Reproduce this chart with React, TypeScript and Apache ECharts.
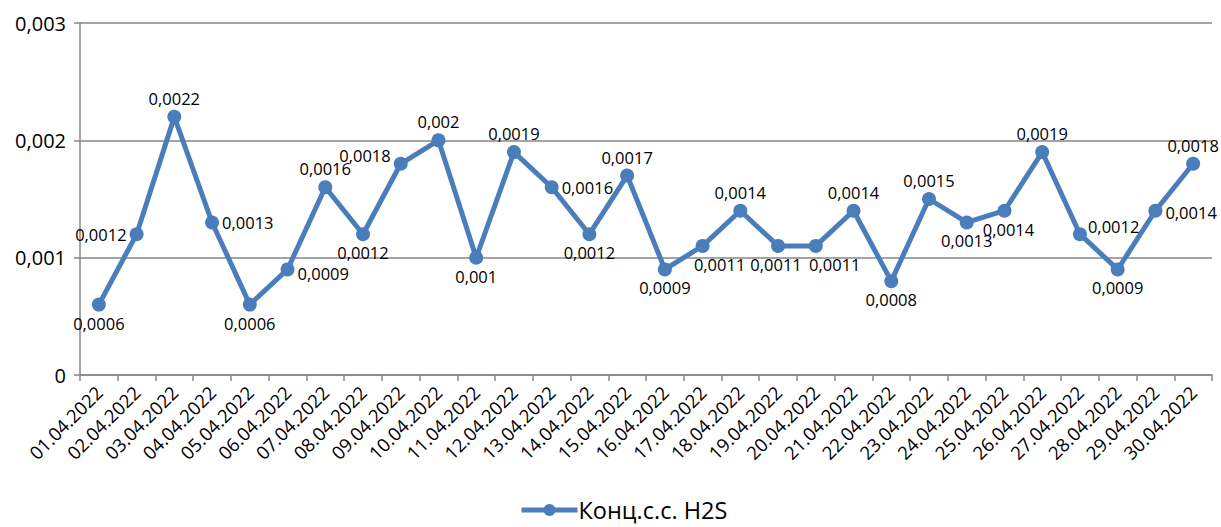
import React, { useEffect, useRef } from "react";
import * as echarts from "echarts";

const categories = [
  "01.04.2022","02.04.2022","03.04.2022","04.04.2022","05.04.2022","06.04.2022",
  "07.04.2022","08.04.2022","09.04.2022","10.04.2022","11.04.2022","12.04.2022",
  "13.04.2022","14.04.2022","15.04.2022","16.04.2022","17.04.2022","18.04.2022",
  "19.04.2022","20.04.2022","21.04.2022","22.04.2022","23.04.2022","24.04.2022",
  "25.04.2022","26.04.2022","27.04.2022","28.04.2022","29.04.2022","30.04.2022",
];
const values = [
  0.0006, 0.0012, 0.0022, 0.0013, 0.0006, 0.0009, 0.0016, 0.0012, 0.0018, 0.002,
  0.001, 0.0019, 0.0016, 0.0012, 0.0017, 0.0009, 0.0011, 0.0014, 0.0011, 0.0011,
  0.0014, 0.0008, 0.0015, 0.0013, 0.0014, 0.0019, 0.0012, 0.0009, 0.0014, 0.0018,
];
const labelPositions = [
  "bottom","left","top","right","bottom","right","top","bottom","left","top",
  "bottom","top","right","bottom","top","bottom","bottom","top","bottom","bottom",
  "top","bottom","top","bottom","bottom","top","right","bottom","right","top",
];
const labelShifts: [number, number][] = [
  [0, 0], [0, 0], [0, 0], [0, 0], [0, 0], [0, 4], [0, 0], [0, 0], [0, -8], [0, 0],
  [0, 0], [0, 0], [0, 0], [0, 0], [0, 0], [0, 0], [17, 0], [0, 0], [-2, 0], [19, 0],
  [0, 0], [0, 0], [0, 0], [0, 0], [4, 0], [0, 0], [-2, -8], [0, 0], [0, 2], [0, 0],
];
const seriesName = "Конц.с.с. H2S";

const fmt = (v: number) => String(v).replace(".", ",");

export default function App() {
  const ref = useRef<HTMLDivElement>(null);
  useEffect(() => {
    if (!ref.current) return;
    const chart = echarts.init(ref.current, undefined, { renderer: "svg" });
    const font = "Open Sans";
    chart.setOption({
      animation: false,
      textStyle: { fontFamily: font },
      grid: { left: 80, right: 9, top: 23, bottom: 152, containLabel: false },
      legend: {
        bottom: 3,
        left: 514,
        itemWidth: 56,
        itemHeight: 15,
        itemGap: 4,
        padding: [2, 5, 2, 5],
        lineStyle: { width: 5 },
        textStyle: { fontSize: 23.5, lineHeight: 24, color: "#000", fontFamily: font, padding: [0, 0, 0, -4] },
        data: [seriesName],
      },
      xAxis: {
        type: "category",
        data: categories,
        boundaryGap: true,
        axisLine: { lineStyle: { color: "#868686", width: 1.5 } },
        axisTick: { show: true, length: 6, alignWithLabel: false, lineStyle: { color: "#868686", width: 1.5 } },
        axisLabel: { rotate: 45, interval: 0, fontSize: 18.5, color: "#000", margin: 14, fontFamily: font },
        splitLine: { show: false },
      },
      yAxis: {
        type: "value",
        min: 0,
        max: 0.003,
        interval: 0.001,
        axisLine: { show: true, lineStyle: { color: "#868686", width: 1.5 } },
        axisTick: { show: true, length: 6, lineStyle: { color: "#868686", width: 1.5 } },
        axisLabel: { fontSize: 20, color: "#000", margin: 14, formatter: (v: number) => fmt(v), fontFamily: font },
        splitLine: { show: true, lineStyle: { color: "#868686", width: 1.5 } },
      },
      series: [
        {
          name: seriesName,
          type: "line",
          data: values.map((v, i) => ({
            value: v,
            label: { position: labelPositions[i], offset: labelShifts[i] },
          })),
          symbol: "circle",
          symbolSize: 14,
          itemStyle: { color: "#4A7EBB" },
          lineStyle: { color: "#4A7EBB", width: 5 },
          label: {
            show: true,
            fontSize: 16.5,
            color: "#000",
            distance: 3,
            fontFamily: font,
            formatter: (p: any) => fmt(p.value),
          },
        },
      ],
    });
    return () => chart.dispose();
  }, []);
  return <div ref={ref} style={{ width: 1221, height: 527, position: "absolute", left: 0, top: 0 }} />;
}
